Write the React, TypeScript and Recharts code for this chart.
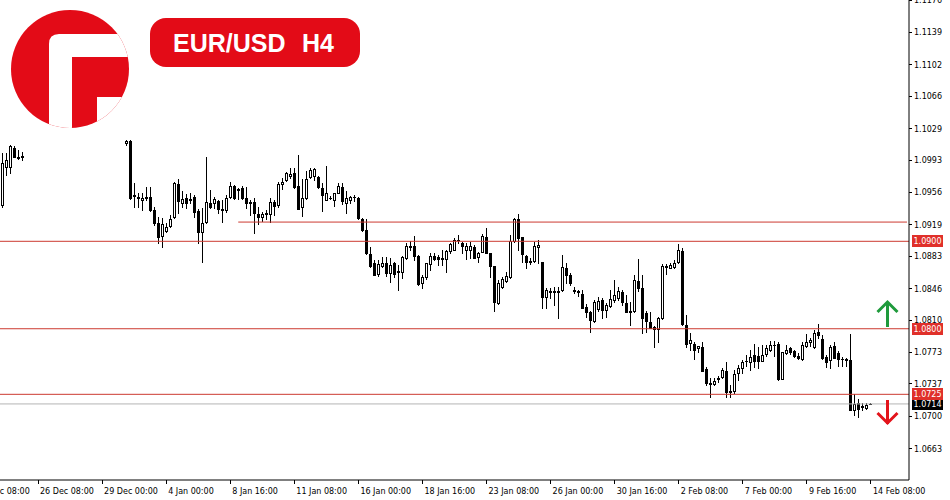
import { ComposedChart, Bar, XAxis, YAxis, ReferenceLine } from 'recharts';

// H4 candles, one slot per bar; null = no bar drawn (gap in history)
const opens = [
  1.0942, 1.0985, 1.0985, 1.1007, 1.0997, 1.0997,
  null, null, null, null, null, null, null, null, null, null, null, null, null, null, null, null, null, null, null, null, null, null, null, null, null,
  1.1012, 1.1015, 1.0953, 1.0951, 1.0947, 1.0950, 1.0951, 1.0936, 1.0921, 1.0906,
  1.0912, 1.0917, 1.0928, 1.0966, 1.0944, 1.0950, 1.0948, 1.0951, 1.0935, 1.0911,
  1.0922, 1.0944, 1.0944, 1.0946, 1.0937, 1.0936, 1.0951, 1.0963, 1.0959, 1.0961,
  1.0950, 1.0945, 1.0945, 1.0931, 1.0928, 1.0931, 1.0931, 1.0945, 1.0941, 1.0966,
  1.0970, 1.0975, 1.0978, 1.0963, 1.0939, 1.0950, 1.0974, 1.0975, 1.0974, 1.0961,
  1.0947, 1.0950, 1.0947, 1.0955, 1.0962, 1.0944, 1.0947, 1.0951, 1.0950, 1.0926,
  1.0913, 1.0886, 1.0875, 1.0863, 1.0872, 1.0875, 1.0864, 1.0875, 1.0865, 1.0865,
  1.0881, 1.0895, 1.0895, 1.0883, 1.0852, 1.0859, 1.0874, 1.0883, 1.0882, 1.0881,
  1.0880, 1.0889, 1.0890, 1.0902, 1.0898, 1.0890, 1.0890, 1.0893, 1.0882, 1.0888,
  1.0905, 1.0887, 1.0872, 1.0830, 1.0848, 1.0855, 1.0859, 1.0900, 1.0925, 1.0905,
  1.0883, 1.0877, 1.0877, 1.0894, 1.0876, 1.0836, 1.0843, 1.0843, 1.0843, 1.0844,
  1.0869, 1.0861, 1.0844, 1.0843, 1.0840, 1.0825, 1.0819, 1.0809, 1.0823, 1.0833,
  1.0821, 1.0826, 1.0833, 1.0835, 1.0842, 1.0830, 1.0819, 1.0820, 1.0855, 1.0847,
  1.0818, 1.0808, 1.0802, 1.0800, 1.0812, 1.0871, 1.0869, 1.0871, 1.0876, 1.0889,
  1.0804, 1.0784, 1.0783, 1.0778, 1.0779, 1.0754, 1.0738, 1.0737, 1.0742, 1.0745,
  1.0752, 1.0728, 1.0729, 1.0749, 1.0755, 1.0763, 1.0762, 1.0770, 1.0769, 1.0763,
  1.0771, 1.0776, 1.0781, 1.0783, 1.0742, 1.0772, 1.0778, 1.0774, 1.0769, 1.0765,
  1.0780, 1.0785, 1.0779, 1.0796, 1.0788, 1.0768, 1.0764, 1.0780, 1.0772, 1.0765,
  1.0765, 1.0764, 1.0707, 1.0715, 1.0712, 1.0709, 1.0714,
  null, null, null, null, null, null, null, null, null,
];
const highs = [
  1.1001, 1.1001, 1.1010, 1.1009, 1.1004, 1.1002,
  null, null, null, null, null, null, null, null, null, null, null, null, null, null, null, null, null, null, null, null, null, null, null, null, null,
  1.1016, 1.1016, 1.0967, 1.0955, 1.0955, 1.0962, 1.0962, 1.0939, 1.0928, 1.0927,
  1.0921, 1.0930, 1.0968, 1.0971, 1.0958, 1.0954, 1.0955, 1.0953, 1.0937, 1.0938,
  1.0996, 1.0959, 1.0951, 1.0947, 1.0947, 1.0953, 1.0968, 1.0964, 1.0961, 1.0963,
  1.0962, 1.0947, 1.0950, 1.0939, 1.0934, 1.0936, 1.0950, 1.0947, 1.0968, 1.0972,
  1.0979, 1.0984, 1.0984, 1.0999, 1.0971, 1.0980, 1.0984, 1.0984, 1.0975, 1.0967,
  1.0986, 1.0952, 1.0955, 1.0967, 1.0967, 1.0958, 1.0952, 1.0953, 1.0951, 1.0927,
  1.0926, 1.0894, 1.0879, 1.0879, 1.0882, 1.0882, 1.0881, 1.0876, 1.0873, 1.0883,
  1.0898, 1.0900, 1.0906, 1.0884, 1.0861, 1.0875, 1.0887, 1.0887, 1.0884, 1.0890,
  1.0890, 1.0898, 1.0904, 1.0907, 1.0899, 1.0898, 1.0899, 1.0896, 1.0888, 1.0908,
  1.0915, 1.0887, 1.0872, 1.0856, 1.0859, 1.0865, 1.0907, 1.0927, 1.0931, 1.0905,
  1.0884, 1.0881, 1.0899, 1.0902, 1.0876, 1.0847, 1.0847, 1.0848, 1.0848, 1.0884,
  1.0875, 1.0864, 1.0848, 1.0844, 1.0844, 1.0828, 1.0820, 1.0833, 1.0836, 1.0835,
  1.0830, 1.0844, 1.0856, 1.0848, 1.0844, 1.0839, 1.0831, 1.0861, 1.0880, 1.0861,
  1.0820, 1.0819, 1.0803, 1.0813, 1.0874, 1.0874, 1.0875, 1.0879, 1.0897, 1.0892,
  1.0816, 1.0795, 1.0785, 1.0780, 1.0785, 1.0756, 1.0744, 1.0744, 1.0746, 1.0755,
  1.0762, 1.0736, 1.0753, 1.0759, 1.0764, 1.0770, 1.0776, 1.0782, 1.0779, 1.0781,
  1.0781, 1.0786, 1.0786, 1.0785, 1.0773, 1.0781, 1.0779, 1.0776, 1.0772, 1.0785,
  1.0794, 1.0789, 1.0799, 1.0805, 1.0793, 1.0770, 1.0781, 1.0785, 1.0774, 1.0768,
  1.0766, 1.0794, 1.0725, 1.0720, 1.0715, 1.0715, 1.0715,
  null, null, null, null, null, null, null, null, null,
];
const lows = [
  1.0939, 1.0976, 1.0978, 1.0996, 1.0994, 1.0993,
  null, null, null, null, null, null, null, null, null, null, null, null, null, null, null, null, null, null, null, null, null, null, null, null, null,
  1.1010, 1.0948, 1.0939, 1.0939, 1.0936, 1.0947, 1.0935, 1.0919, 1.0898, 1.0893,
  1.0911, 1.0916, 1.0927, 1.0932, 1.0939, 1.0938, 1.0944, 1.0928, 1.0898, 1.0876,
  1.0921, 1.0938, 1.0938, 1.0932, 1.0922, 1.0934, 1.0950, 1.0948, 1.0948, 1.0948,
  1.0938, 1.0930, 1.0910, 1.0920, 1.0923, 1.0925, 1.0922, 1.0930, 1.0939, 1.0960,
  1.0969, 1.0972, 1.0961, 1.0937, 1.0929, 1.0948, 1.0972, 1.0970, 1.0961, 1.0935,
  1.0947, 1.0948, 1.0940, 1.0955, 1.0943, 1.0932, 1.0944, 1.0946, 1.0925, 1.0912,
  1.0886, 1.0871, 1.0861, 1.0860, 1.0871, 1.0860, 1.0853, 1.0859, 1.0844, 1.0858,
  1.0880, 1.0890, 1.0879, 1.0850, 1.0847, 1.0857, 1.0867, 1.0879, 1.0873, 1.0873,
  1.0865, 1.0887, 1.0890, 1.0898, 1.0887, 1.0880, 1.0881, 1.0881, 1.0876, 1.0888,
  1.0887, 1.0859, 1.0820, 1.0828, 1.0847, 1.0853, 1.0858, 1.0899, 1.0890, 1.0876,
  1.0869, 1.0874, 1.0876, 1.0875, 1.0824, 1.0824, 1.0835, 1.0827, 1.0812, 1.0843,
  1.0852, 1.0850, 1.0841, 1.0837, 1.0824, 1.0813, 1.0796, 1.0808, 1.0820, 1.0812,
  1.0813, 1.0825, 1.0831, 1.0833, 1.0827, 1.0819, 1.0804, 1.0819, 1.0843, 1.0795,
  1.0796, 1.0801, 1.0779, 1.0785, 1.0811, 1.0863, 1.0869, 1.0869, 1.0875, 1.0804,
  1.0779, 1.0776, 1.0765, 1.0773, 1.0752, 1.0736, 1.0722, 1.0736, 1.0739, 1.0744,
  1.0722, 1.0722, 1.0726, 1.0741, 1.0749, 1.0757, 1.0753, 1.0756, 1.0755, 1.0763,
  1.0769, 1.0774, 1.0769, 1.0741, 1.0742, 1.0771, 1.0771, 1.0768, 1.0765, 1.0764,
  1.0779, 1.0780, 1.0778, 1.0789, 1.0765, 1.0756, 1.0755, 1.0767, 1.0757, 1.0757,
  1.0757, 1.0707, 1.0701, 1.0699, 1.0707, 1.0708, 1.0714,
  null, null, null, null, null, null, null, null, null,
];
const closes = [
  1.0990, 1.0993, 1.1009, 1.0997, 1.0995, 1.0998,
  null, null, null, null, null, null, null, null, null, null, null, null, null, null, null, null, null, null, null, null, null, null, null, null, null,
  1.1015, 1.0950, 1.0952, 1.0950, 1.0950, 1.0951, 1.0936, 1.0921, 1.0905, 1.0920,
  1.0916, 1.0925, 1.0967, 1.0946, 1.0948, 1.0944, 1.0947, 1.0934, 1.0911, 1.0921,
  1.0945, 1.0939, 1.0948, 1.0937, 1.0936, 1.0950, 1.0963, 1.0949, 1.0960, 1.0949,
  1.0944, 1.0944, 1.0932, 1.0928, 1.0931, 1.0932, 1.0945, 1.0940, 1.0966, 1.0968,
  1.0978, 1.0977, 1.0962, 1.0937, 1.0950, 1.0971, 1.0982, 1.0983, 1.0962, 1.0953,
  1.0955, 1.0950, 1.0955, 1.0963, 1.0946, 1.0950, 1.0951, 1.0951, 1.0927, 1.0913,
  1.0887, 1.0872, 1.0861, 1.0874, 1.0875, 1.0864, 1.0873, 1.0863, 1.0866, 1.0882,
  1.0895, 1.0894, 1.0883, 1.0851, 1.0859, 1.0875, 1.0883, 1.0880, 1.0880, 1.0880,
  1.0889, 1.0897, 1.0902, 1.0901, 1.0895, 1.0895, 1.0895, 1.0881, 1.0887, 1.0906,
  1.0887, 1.0872, 1.0831, 1.0852, 1.0857, 1.0860, 1.0900, 1.0925, 1.0904, 1.0886,
  1.0876, 1.0876, 1.0895, 1.0896, 1.0836, 1.0844, 1.0842, 1.0842, 1.0842, 1.0871,
  1.0861, 1.0852, 1.0843, 1.0842, 1.0824, 1.0819, 1.0810, 1.0831, 1.0832, 1.0822,
  1.0827, 1.0834, 1.0839, 1.0843, 1.0831, 1.0819, 1.0820, 1.0856, 1.0847, 1.0812,
  1.0809, 1.0801, 1.0800, 1.0812, 1.0872, 1.0872, 1.0873, 1.0875, 1.0890, 1.0805,
  1.0783, 1.0787, 1.0776, 1.0780, 1.0752, 1.0738, 1.0737, 1.0740, 1.0744, 1.0753,
  1.0728, 1.0729, 1.0748, 1.0755, 1.0762, 1.0763, 1.0768, 1.0763, 1.0763, 1.0770,
  1.0778, 1.0781, 1.0781, 1.0742, 1.0773, 1.0776, 1.0773, 1.0769, 1.0767, 1.0781,
  1.0785, 1.0787, 1.0795, 1.0793, 1.0767, 1.0762, 1.0779, 1.0767, 1.0765, 1.0765,
  1.0764, 1.0707, 1.0714, 1.0708, 1.0711, 1.0713, 1.0714,
  null, null, null, null, null, null, null, null, null,
];

const priceTicks = [
  1.1176, 1.1139, 1.1102, 1.1066, 1.1029, 1.0993, 1.0956, 1.0919,
  1.0883, 1.0846, 1.081, 1.0773, 1.0737, 1.07, 1.0663,
];
const timeTickSlots = [9, 25, 41, 57, 73, 89, 105, 121, 137, 153, 169, 185, 201, 217];
const timeTickLabels = [
  '26 Dec 08:00', '29 Dec 00:00', '4 Jan 00:00', '8 Jan 16:00', '11 Jan 08:00',
  '16 Jan 00:00', '18 Jan 16:00', '23 Jan 08:00', '26 Jan 00:00', '30 Jan 16:00',
  '2 Feb 08:00', '7 Feb 00:00', '9 Feb 16:00', '14 Feb 08:00',
];
const cutTimeLabel = '22 Dec 08:00';

const levels = [1.09, 1.08, 1.0725];
const levelLabels = ['1.0900', '1.0800', '1.0725'];
const trendLevel = 1.0922;
const trendStartSlot = 59;
const lastPrice = 1.0714;

const RED = '#e30b17';
const LINE_RED = '#cc3a30';
const AXIS_FONT = '"DejaVu Sans", Tahoma, sans-serif';

const data = opens.map((o, i) => ({
  i,
  open: o,
  high: highs[i],
  low: lows[i],
  close: closes[i],
}));

function Candle(props: any) {
  const { x, y, width, height, payload } = props;
  if (!payload || payload.open == null || y == null || isNaN(y)) return <g />;
  const { open, high, low, close } = payload;
  const top = Math.min(y, y + height);
  const h = Math.abs(height);
  const range = high - low;
  const k = range > 0 ? h / range : 0;
  const yOf = (v: number) => top + (high - v) * k;
  const cx = Math.round(x + width / 2 - 0.5) + 0.5;
  const yHi = Math.round(top);
  const yLo = Math.round(top + h);
  const bTop = Math.round(yOf(Math.max(open, close)));
  const bBot = Math.round(yOf(Math.min(open, close)));
  const bull = close > open;
  return (
    <g>
      <line x1={cx} x2={cx} y1={yHi} y2={yLo + 1} stroke="#000" strokeWidth={1} />
      {bBot - bTop < 1 ? (
        <line x1={cx - 1.5} x2={cx + 1.5} y1={bTop + 0.5} y2={bTop + 0.5} stroke="#000" />
      ) : bull ? (
        <rect x={cx - 1} y={bTop + 0.5} width={2} height={bBot - bTop} fill="#fff" stroke="#000" strokeWidth={1} />
      ) : (
        <rect x={cx - 1.5} y={bTop} width={3} height={bBot - bTop + 1} fill="#000" />
      )}
    </g>
  );
}

function TimeTick(props: any) {
  const { x, y, payload, index } = props;
  const pos = timeTickSlots.indexOf(payload.value);
  const tx = Math.round(x - 0.5) + 0.5;
  const step = 909 / opens.length;
  return (
    <g>
      <line x1={tx} x2={tx} y1={y} y2={y + 4} stroke="#000" />
      <text x={x + 2} y={y + 14} fontSize={8} fontFamily={AXIS_FONT} fill="#000">
        {timeTickLabels[pos]}
      </text>
      {index === 0 && (
        <>
          <line x1={tx - 16 * step} x2={tx - 16 * step} y1={y} y2={y + 4} stroke="#000" />
          <text x={x - 16 * step + 2} y={y + 14} fontSize={8} fontFamily={AXIS_FONT} fill="#000">
            {cutTimeLabel}
          </text>
        </>
      )}
    </g>
  );
}

function PriceTick(props: any) {
  const { x, y, payload } = props;
  const ty = Math.round(y - 0.5) + 0.5;
  return (
    <g>
      <line x1={x} x2={x + 3} y1={ty} y2={ty} stroke="#000" />
      <text x={x + 5} y={y + 3} fontSize={8} fontFamily={AXIS_FONT} fill="#000">
        {payload.value.toFixed(4)}
      </text>
    </g>
  );
}

function priceTag(text: string, bg: string) {
  return (props: any) => {
    const vb = props.viewBox;
    if (!vb) return null;
    const cy = Math.round(vb.y);
    const left = 912;
    return (
      <g>
        <rect x={left} y={cy - 6} width={31} height={12} fill={bg} />
        <text x={left + 15.5} y={cy + 3} textAnchor="middle" fontSize={8} fontFamily={AXIS_FONT} fill="#fff">
          {text}
        </text>
      </g>
    );
  };
}

function Logo() {
  return (
    <svg width={140} height={140} style={{ position: 'absolute', left: 0, top: 0 }}>
      <defs>
        <clipPath id="logoClip">
          <circle cx={70} cy={69} r={59} />
        </clipPath>
      </defs>
      <g clipPath="url(#logoClip)">
        <rect x={0} y={0} width={140} height={140} fill={RED} />
        <path d="M 59 34 H 140 V 57 H 72 V 140 H 49 V 44 Q 49 34 59 34 Z" fill="#fff" />
        <path d="M 97 97 H 140 V 140 H 97 Z" fill="#fff" />
      </g>
    </svg>
  );
}

function Decorations() {
  return (
    <svg width={950} height={500} style={{ position: 'absolute', left: 0, top: 0, pointerEvents: 'none' }}>
      <rect x={150} y={18} width={210} height={49} rx={16} fill={RED} />
      <text x={173} y={52} fontSize={25} fontWeight="bold" fontFamily='"Liberation Sans", Arial, sans-serif' fill="#fff">
        EUR/USD
      </text>
      <text x={302} y={52} fontSize={25} fontWeight="bold" fontFamily='"Liberation Sans", Arial, sans-serif' fill="#fff">
        H4
      </text>
      <g stroke="#1f9a3c" strokeWidth={3} fill="none" strokeLinecap="butt">
        <line x1={887.5} x2={887.5} y1={327} y2={302} />
        <polyline points="877.5,312 887.5,302 897.5,312" />
      </g>
      <g stroke="#e3141b" strokeWidth={3} fill="none">
        <line x1={887.5} x2={887.5} y1={400} y2={424} />
        <polyline points="877.5,413 887.5,423 897.5,413" />
      </g>
    </svg>
  );
}

export default function App() {
  return (
    <div style={{ position: 'absolute', left: 0, top: 0, width: 950, height: 500, background: '#fff' }}>
      <ComposedChart
        width={950}
        height={500}
        data={data}
        margin={{ top: 0, right: 0, left: 0, bottom: 0 }}
        barCategoryGap={0}
      >
        <XAxis
          dataKey="i"
          type="category"
          height={20}
          ticks={timeTickSlots}
          interval={0}
          tickSize={0}
          tickMargin={0}
          tickLine={false}
          axisLine={{ stroke: '#000' }}
          tick={<TimeTick />}
        />
        <YAxis
          orientation="right"
          width={41}
          domain={[1.0627, 1.1176]}
          allowDataOverflow
          ticks={priceTicks}
          interval={0}
          tickSize={0}
          tickMargin={0}
          tickLine={false}
          axisLine={{ stroke: '#000' }}
          tick={<PriceTick />}
        />
        <ReferenceLine y={lastPrice} stroke="#b4b4b4" label={priceTag(lastPrice.toFixed(4), '#000')} />
        {levels.map((lv, k) => (
          <ReferenceLine key={lv} y={lv} stroke={LINE_RED} label={priceTag(levelLabels[k], '#e0302a')} />
        ))}
        <ReferenceLine
          segment={[
            { x: trendStartSlot, y: trendLevel },
            { x: opens.length - 1, y: trendLevel },
          ]}
          stroke={LINE_RED}
        />
        <Bar
          dataKey={(d: any) => (d.low == null ? null : [d.low, d.high])}
          shape={<Candle />}
          isAnimationActive={false}
        />
      </ComposedChart>
      <Logo />
      <Decorations />
    </div>
  );
}
